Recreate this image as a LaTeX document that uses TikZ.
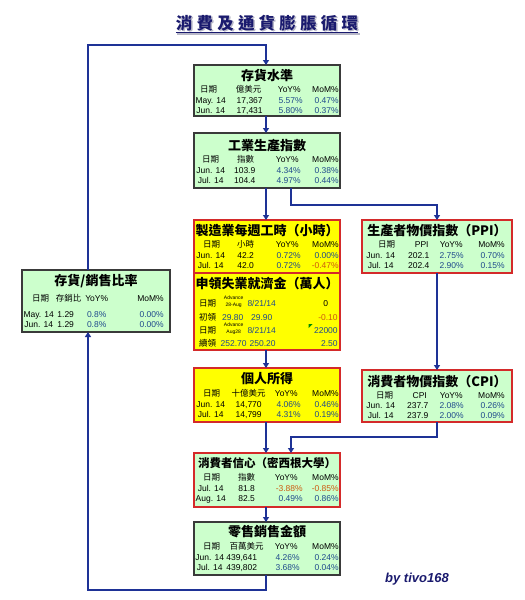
\documentclass[tikz,border=0pt]{standalone}
\usepackage{fontspec}
\setmainfont{Liberation Sans}
\newfontfamily\cjk{Noto Sans CJK TC}
\usetikzlibrary{arrows.meta}
\definecolor{gfill}{HTML}{CCFFCC}
\definecolor{yfill}{HTML}{FFFF00}
\definecolor{rborder}{HTML}{D42A2A}
\definecolor{dborder}{HTML}{3A3A3A}
\definecolor{lineblue}{HTML}{1E3296}
\definecolor{numblue}{HTML}{1F4A8C}
\definecolor{negc}{HTML}{CC5A10}
\definecolor{navy}{HTML}{1A1A6E}
\definecolor{shadowc}{HTML}{B8B8C8}
\newcommand\dcell[3]{\rlap{\hskip#1pt\makebox[0pt][#2]{#3}}}
\newcommand\posv[1]{\textcolor{numblue}{#1}}
\newcommand\negv[1]{\textcolor{negc}{#1}}
\newcommand\brow[4]{\node[rowtxt] (#1) at ([yshift=-#3pt]#2.north west) {#4};}
\newcommand\btitle[4]{\node[ttl] (#1) at ([yshift=-#3pt]#2.north) {#4};}
\newcommand\maintitle{消\hspace{4.2pt}費\hspace{4.2pt}及\hspace{4.2pt}通\hspace{4.2pt}貨\hspace{4.2pt}膨\hspace{4.2pt}脹\hspace{4.2pt}循\hspace{4.2pt}環}
\tikzset{
 box/.style={draw, line width=1.2pt, inner sep=0pt, outer sep=0pt, rectangle},
 gbox/.style={box, fill=gfill, draw=dborder},
 grbox/.style={box, fill=gfill, draw=rborder},
 ybox/.style={box, fill=yfill, draw=rborder},
 conn/.style={draw=lineblue, line width=1.5pt, -{Triangle[width=6pt,length=5pt]}},
 rowtxt/.style={anchor=base west, inner sep=0pt, font=\fontsize{8.5}{10}\selectfont},
 ttl/.style={anchor=base, inner sep=0pt, font=\cjk\bfseries\fontsize{13}{15}\selectfont},
 titlefont/.style={inner sep=0pt, anchor=base, font=\cjk\bfseries\fontsize{16.5}{18}\selectfont},
}
\begin{document}
\begin{tikzpicture}[x=1pt,y=-1pt]
\useasboundingbox (0,0) rectangle (525,600);
\fill[white] (0,0) rectangle (525,600);

% title with soft shadow
\node[titlefont, text=shadowc] (title-s) at (268.5,30.5) {\maintitle};
\draw[shadowc, line width=1.3pt] ([yshift=-3.5pt]title-s.base west) -- ([yshift=-3.5pt]title-s.base east);
\node[titlefont, text=navy] (title) at (267,29) {\maintitle};
\draw[navy, line width=1.3pt] ([yshift=-3.5pt]title.base west) -- ([yshift=-3.5pt]title.base east);

% boxes
\node[gbox, minimum width=146pt, minimum height=51pt] (inv) at (267,90.5) {};
\node[gbox, minimum width=146pt, minimum height=55pt] (ind) at (267,160.5) {};
\node[ybox, minimum width=146pt, minimum height=53pt] (mfg) at (267,246.5) {};
\node[ybox, minimum width=146pt, minimum height=77pt] (jobs) at (267,311.5) {};
\node[grbox, minimum width=150pt, minimum height=53pt] (ppi) at (437,246.5) {};
\node[gbox, minimum width=148pt, minimum height=62pt] (isr) at (96,301) {};
\node[ybox, minimum width=146pt, minimum height=54pt] (inc) at (267,395) {};
\node[grbox, minimum width=150pt, minimum height=52pt] (cpi) at (437,396) {};
\node[grbox, minimum width=146pt, minimum height=54pt] (conf) at (267,480) {};
\node[gbox, minimum width=146pt, minimum height=53pt] (ret) at (267,548.5) {};

% connectors
\coordinate (lb) at (88,590);
\coordinate (lt) at (88,45);
\coordinate (mx) at (266,0);
\coordinate (b1) at (291,205);
\coordinate (b2) at (291,437);
\draw[conn] (ret.south -| mx) |- (lb) -- (lb |- isr.south);
\draw[conn] (lt |- isr.north) -- (lt) -| (inv.north -| mx);
\draw[conn] (inv.south -| mx) -- (ind.north -| mx);
\draw[conn] (ind.south -| mx) -- (mfg.north -| mx);
\draw[conn] (ind.south -| b1) -- (b1) -| (ppi.north);
\draw[conn] (jobs.south -| mx) -- (inc.north -| mx);
\draw[conn] (ppi.south) -- (cpi.north);
\draw[conn] (inc.south -| mx) -- (conf.north -| mx);
\draw[conn] (cpi.south) |- (b2) -- (b2 |- conf.north);
\draw[conn] (conf.south -| mx) -- (ret.north -| mx);

% 存貨水準
\btitle{inv-t}{inv}{15}{存貨水準}
\brow{inv-h}{inv}{27}{\dcell{14}{c}{\cjk 日期}\dcell{54}{c}{\cjk 億美元}\dcell{106}{r}{YoY\%}\dcell{144}{r}{MoM\%}}
\brow{inv-1}{inv}{38}{\dcell{16}{c}{May. 14}\dcell{55}{c}{17,367}\dcell{108}{r}{\posv{5.57\%}}\dcell{144}{r}{\posv{0.47\%}}}
\brow{inv-2}{inv}{48}{\dcell{16}{c}{Jun. 14}\dcell{55}{c}{17,431}\dcell{108}{r}{\posv{5.80\%}}\dcell{144}{r}{\posv{0.37\%}}}

% 工業生產指數
\btitle{ind-t}{ind}{17}{工業生產指數}
\brow{ind-h}{ind}{29}{\dcell{16}{c}{\cjk 日期}\dcell{51}{c}{\cjk 指數}\dcell{104}{r}{YoY\%}\dcell{144}{r}{MoM\%}}
\brow{ind-1}{ind}{40}{\dcell{16}{c}{Jun. 14}\dcell{50}{c}{103.9}\dcell{106}{r}{\posv{4.34\%}}\dcell{144}{r}{\posv{0.38\%}}}
\brow{ind-2}{ind}{50}{\dcell{16}{c}{Jul. 14}\dcell{50}{c}{104.4}\dcell{106}{r}{\posv{4.97\%}}\dcell{144}{r}{\posv{0.44\%}}}

% 製造業每週工時
\btitle{mfg-t}{mfg}{15}{製造業每週工時（小時）}
\brow{mfg-h}{mfg}{27}{\dcell{17}{c}{\cjk 日期}\dcell{51}{c}{\cjk 小時}\dcell{104}{r}{YoY\%}\dcell{144}{r}{MoM\%}}
\brow{mfg-1}{mfg}{38}{\dcell{16}{c}{Jun. 14}\dcell{51}{c}{42.2}\dcell{106}{r}{\posv{0.72\%}}\dcell{144}{r}{\posv{0.00\%}}}
\brow{mfg-2}{mfg}{48}{\dcell{16}{c}{Jul. 14}\dcell{51}{c}{42.0}\dcell{106}{r}{\posv{0.72\%}}\dcell{144}{r}{\negv{-0.47\%}}}

% 申領失業就濟金
\btitle{jobs-t}{jobs}{15}{申領失業就濟金（萬人）}
\brow{jobs-1}{jobs}{33}{\dcell{13}{c}{\cjk 日期}\dcell{39}{c}{\fontsize{5}{5.5}\selectfont\shortstack{Advance\\28-Aug}}\dcell{67}{c}{\posv{8/21/14}}\dcell{131}{c}{0}}
\brow{jobs-2}{jobs}{47}{\dcell{13}{c}{\cjk 初領}\dcell{38}{c}{\posv{29.80}}\dcell{67}{c}{\posv{29.90}}\dcell{143}{r}{\negv{-0.10}}}
\brow{jobs-3}{jobs}{60}{\dcell{13}{c}{\cjk 日期}\dcell{39}{c}{\fontsize{5}{5.5}\selectfont\shortstack{Advance\\Aug28}}\dcell{67}{c}{\posv{8/21/14}}\dcell{143}{r}{\posv{22000}}}
\brow{jobs-4}{jobs}{73}{\dcell{13}{c}{\cjk 續領}\dcell{39}{c}{\posv{252.70}}\dcell{68}{c}{\posv{250.20}}\dcell{143}{r}{\posv{2.50}}}
\fill[green!55!black] (308.5,324) -- (312.5,324) -- (308.5,328) -- cycle;

% PPI
\btitle{ppi-t}{ppi}{15}{生產者物價指數（PPI）}
\brow{ppi-h}{ppi}{27}{\dcell{24}{c}{\cjk 日期}\dcell{59}{c}{PPI}\dcell{100}{r}{YoY\%}\dcell{142}{r}{MoM\%}}
\brow{ppi-1}{ppi}{38}{\dcell{18}{c}{Jun. 14}\dcell{56}{c}{202.1}\dcell{101}{r}{\posv{2.75\%}}\dcell{142}{r}{\posv{0.70\%}}}
\brow{ppi-2}{ppi}{48}{\dcell{18}{c}{Jul. 14}\dcell{56}{c}{202.4}\dcell{101}{r}{\posv{2.90\%}}\dcell{142}{r}{\posv{0.15\%}}}

% 存貨/銷售比率
\btitle{isr-t}{isr}{15}{存貨/銷售比率}
\brow{isr-h}{isr}{31}{\dcell{18}{c}{\cjk 日期}\dcell{46}{c}{\cjk 存銷比}\dcell{74}{c}{YoY\%}\dcell{141}{r}{MoM\%}}
\brow{isr-1}{isr}{47}{\dcell{16}{c}{May. 14}\dcell{43}{c}{1.29}\dcell{74}{c}{\posv{0.8\%}}\dcell{141}{r}{\posv{0.00\%}}}
\brow{isr-2}{isr}{57}{\dcell{16}{c}{Jun. 14}\dcell{43}{c}{1.29}\dcell{74}{c}{\posv{0.8\%}}\dcell{141}{r}{\posv{0.00\%}}}

% 個人所得
\btitle{inc-t}{inc}{15}{個人所得}
\brow{inc-h}{inc}{28}{\dcell{17}{c}{\cjk 日期}\dcell{54}{c}{\cjk 十億美元}\dcell{103}{r}{YoY\%}\dcell{144}{r}{MoM\%}}
\brow{inc-1}{inc}{39}{\dcell{16}{c}{Jun. 14}\dcell{54}{c}{14,770}\dcell{106}{r}{\posv{4.06\%}}\dcell{144}{r}{\posv{0.46\%}}}
\brow{inc-2}{inc}{49}{\dcell{16}{c}{Jul. 14}\dcell{54}{c}{14,799}\dcell{106}{r}{\posv{4.31\%}}\dcell{144}{r}{\posv{0.19\%}}}

% CPI
\btitle{cpi-t}{cpi}{16}{消費者物價指數（CPI）}
\brow{cpi-h}{cpi}{28}{\dcell{22}{c}{\cjk 日期}\dcell{57}{c}{CPI}\dcell{100}{r}{YoY\%}\dcell{142}{r}{MoM\%}}
\brow{cpi-1}{cpi}{38}{\dcell{18}{c}{Jun. 14}\dcell{55}{c}{237.7}\dcell{101}{r}{\posv{2.08\%}}\dcell{142}{r}{\posv{0.26\%}}}
\brow{cpi-2}{cpi}{48}{\dcell{18}{c}{Jul. 14}\dcell{55}{c}{237.9}\dcell{101}{r}{\posv{2.00\%}}\dcell{142}{r}{\posv{0.09\%}}}

% 消費者信心
\node[ttl, font=\cjk\bfseries\fontsize{11.5}{14}\selectfont] (conf-t) at ([yshift=-14pt]conf.north) {消費者信心（密西根大學）};
\brow{conf-h}{conf}{27}{\dcell{17}{c}{\cjk 日期}\dcell{52}{c}{\cjk 指數}\dcell{103}{r}{YoY\%}\dcell{144}{r}{MoM\%}}
\brow{conf-1}{conf}{38}{\dcell{16}{c}{Jul. 14}\dcell{52}{c}{81.8}\dcell{108}{r}{\negv{-3.88\%}}\dcell{144}{r}{\negv{-0.85\%}}}
\brow{conf-2}{conf}{48}{\dcell{16}{c}{Aug. 14}\dcell{52}{c}{82.5}\dcell{108}{r}{\posv{0.49\%}}\dcell{144}{r}{\posv{0.86\%}}}

% 零售銷售金額
\btitle{ret-t}{ret}{14}{零售銷售金額}
\brow{ret-h}{ret}{27}{\dcell{17}{c}{\cjk 日期}\dcell{52}{c}{\cjk 百萬美元}\dcell{103}{r}{YoY\%}\dcell{144}{r}{MoM\%}}
\brow{ret-1}{ret}{38}{\dcell{15}{c}{Jun. 14}\dcell{47}{c}{439,641}\dcell{105}{r}{\posv{4.26\%}}\dcell{144}{r}{\posv{0.24\%}}}
\brow{ret-2}{ret}{48}{\dcell{15}{c}{Jul. 14}\dcell{47}{c}{439,802}\dcell{105}{r}{\posv{3.68\%}}\dcell{144}{r}{\posv{0.04\%}}}

% signature
\node[inner sep=0pt, anchor=base west, text=navy, font=\bfseries\itshape\fontsize{13}{15}\selectfont] (sig) at (385,582) {by tivo168};
\end{tikzpicture}
\end{document}
